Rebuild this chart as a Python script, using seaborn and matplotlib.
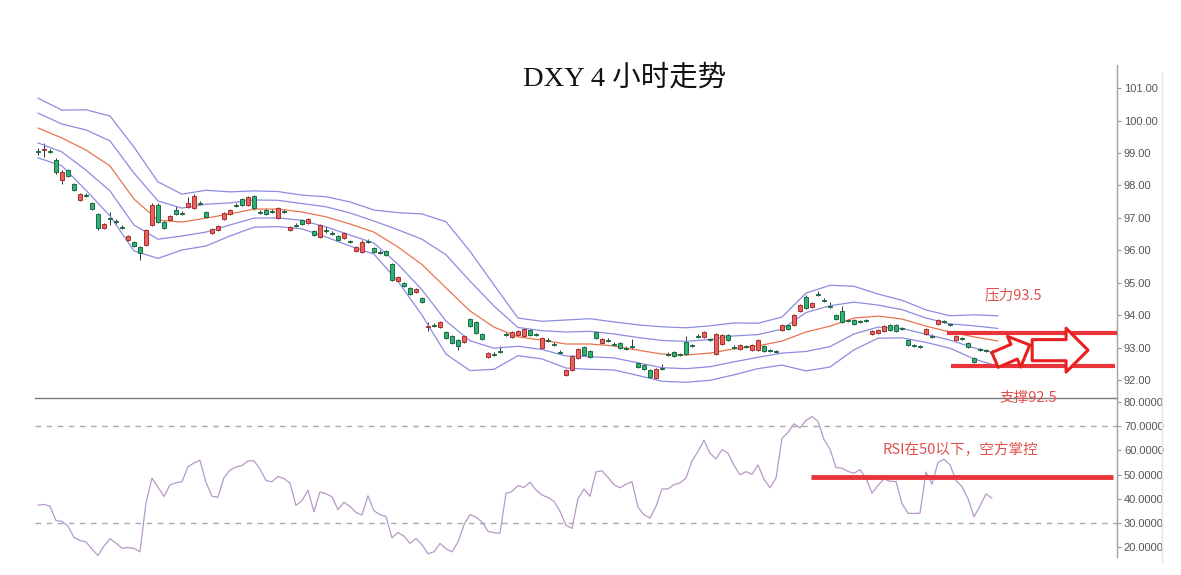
# DXY 4h chart: candles + bollinger bands on top, RSI below
import numpy as np
import pandas as pd
import matplotlib
matplotlib.use("Agg")
import matplotlib.pyplot as plt
from matplotlib.ticker import FormatStrFormatter
from matplotlib.lines import Line2D
import seaborn as sns

# candle values
opens = [
    99.06, 99.09, 99.06, 98.78, 98.17, 98.47, 98.04, 97.55, 97.70, 97.46,
    97.12, 96.69, 96.99, 96.90, 96.72, 96.32, 96.25, 96.10, 96.16, 96.78,
    97.39, 96.87, 96.93, 97.24, 97.15, 97.33, 97.30, 97.46, 97.18, 96.53,
    96.62, 96.96, 97.12, 97.39, 97.58, 97.39, 97.67, 97.18, 97.24, 97.21,
    96.99, 97.21, 96.62, 96.78, 96.93, 96.84, 96.59, 96.41, 96.62, 96.53,
    96.44, 96.38, 96.28, 95.98, 95.95, 96.28, 96.07, 95.95, 95.98, 95.58,
    95.05, 94.99, 94.84, 94.71, 94.53, 93.63, 93.70, 93.63, 93.48, 93.36,
    93.23, 93.17, 93.88, 93.79, 93.42, 92.71, 92.80, 92.89, 93.42, 93.33,
    93.39, 93.36, 93.54, 93.42, 92.99, 93.23, 93.11, 92.86, 92.15, 92.31,
    92.68, 93.02, 92.89, 93.48, 93.14, 93.23, 93.11, 93.14, 92.99, 93.05,
    92.52, 92.46, 92.31, 92.06, 92.37, 92.80, 92.86, 92.80, 93.17, 93.08,
    93.36, 93.33, 93.26, 92.80, 93.11, 93.39, 93.02, 92.96, 93.05, 92.92,
    92.92, 93.05, 92.92, 92.89, 93.54, 93.70, 93.70, 94.13, 94.56, 94.25,
    94.65, 94.47, 94.28, 94.00, 94.13, 93.85, 93.85, 93.82, 93.85, 93.42,
    93.45, 93.51, 93.70, 93.70, 93.60, 93.23, 93.08, 93.05, 93.42, 93.36,
    93.73, 93.82, 93.73, 93.23, 93.29, 93.14, 92.68, 92.96, 92.92, 92.86,
]
closes = [
    99.03, 99.12, 99.03, 98.41, 98.41, 98.29, 97.86, 97.73, 97.67, 97.27,
    96.69, 96.81, 96.96, 96.87, 96.69, 96.44, 96.13, 95.91, 96.62, 97.39,
    96.87, 96.69, 97.06, 97.12, 97.12, 97.46, 97.67, 97.43, 97.03, 96.66,
    96.75, 97.15, 97.24, 97.36, 97.39, 97.64, 97.30, 97.15, 97.12, 97.18,
    97.30, 97.18, 96.72, 96.75, 96.81, 96.96, 96.47, 96.78, 96.59, 96.50,
    96.32, 96.53, 96.25, 96.10, 96.25, 96.25, 95.95, 95.92, 95.85, 95.08,
    95.18, 94.90, 94.65, 94.81, 94.40, 93.66, 93.66, 93.79, 93.29, 93.14,
    93.05, 93.36, 93.66, 93.45, 93.26, 92.83, 92.77, 92.86, 93.39, 93.48,
    93.51, 93.57, 93.39, 93.39, 93.29, 93.20, 93.08, 92.83, 92.31, 92.74,
    92.96, 92.77, 92.71, 93.29, 93.26, 93.20, 93.08, 92.99, 92.96, 93.02,
    92.40, 92.34, 92.09, 92.34, 92.34, 92.77, 92.74, 92.77, 92.80, 93.05,
    93.33, 93.48, 93.23, 93.42, 93.39, 93.23, 92.99, 93.08, 93.02, 93.08,
    93.23, 92.89, 92.89, 92.86, 93.70, 93.57, 94.00, 94.31, 94.22, 94.37,
    94.62, 94.44, 94.25, 93.88, 93.79, 93.82, 93.73, 93.79, 93.82, 93.51,
    93.54, 93.66, 93.54, 93.51, 93.57, 93.08, 93.05, 93.02, 93.57, 93.33,
    93.85, 93.79, 93.70, 93.36, 93.26, 93.02, 92.55, 92.92, 92.89, 92.83,
]
highs = [
    99.15, 99.31, 99.12, 98.84, 98.47, 98.50, 98.07, 97.77, 97.77, 97.49,
    97.15, 96.84, 97.18, 96.96, 96.78, 96.47, 96.28, 96.13, 96.65, 97.46,
    97.46, 96.93, 97.09, 97.36, 97.21, 97.64, 97.73, 97.52, 97.21, 96.69,
    96.78, 97.18, 97.27, 97.46, 97.61, 97.67, 97.70, 97.24, 97.30, 97.27,
    97.33, 97.27, 96.75, 96.84, 96.96, 96.99, 96.62, 96.81, 96.75, 96.59,
    96.47, 96.56, 96.32, 96.13, 96.32, 96.35, 96.10, 96.01, 96.01, 95.61,
    95.21, 95.02, 94.87, 94.84, 94.56, 93.79, 93.76, 93.82, 93.51, 93.39,
    93.26, 93.39, 93.91, 93.82, 93.45, 92.86, 92.86, 93.05, 93.48, 93.51,
    93.54, 93.60, 93.57, 93.45, 93.33, 93.29, 93.17, 92.92, 92.34, 92.77,
    92.99, 93.05, 92.92, 93.51, 93.29, 93.29, 93.17, 93.17, 93.05, 93.26,
    92.55, 92.49, 92.34, 92.37, 92.49, 92.86, 92.89, 92.83, 93.36, 93.11,
    93.42, 93.51, 93.29, 93.45, 93.42, 93.42, 93.08, 93.11, 93.08, 93.11,
    93.26, 93.08, 92.96, 92.92, 93.73, 93.73, 94.03, 94.34, 94.62, 94.40,
    94.74, 94.53, 94.40, 94.03, 94.28, 93.88, 93.88, 93.85, 93.88, 93.54,
    93.57, 93.70, 93.73, 93.73, 93.63, 93.26, 93.11, 93.08, 93.60, 93.42,
    93.88, 93.85, 93.76, 93.39, 93.33, 93.17, 92.71, 92.99, 92.96, 92.92,
]
lows = [
    98.94, 98.88, 99.00, 98.35, 98.04, 98.26, 97.83, 97.52, 97.64, 97.24,
    96.62, 96.66, 96.78, 96.81, 96.66, 96.28, 96.10, 95.70, 96.13, 96.75,
    96.84, 96.66, 96.90, 97.09, 97.09, 97.30, 97.27, 97.39, 96.99, 96.50,
    96.59, 96.93, 97.09, 97.33, 97.36, 97.36, 97.24, 97.12, 97.09, 97.15,
    96.96, 97.15, 96.59, 96.72, 96.78, 96.81, 96.44, 96.38, 96.53, 96.47,
    96.28, 96.35, 96.22, 95.95, 95.92, 96.22, 95.92, 95.88, 95.82, 95.05,
    95.02, 94.87, 94.62, 94.68, 94.37, 93.51, 93.63, 93.60, 93.26, 93.11,
    92.92, 93.14, 93.63, 93.42, 93.23, 92.68, 92.74, 92.83, 93.36, 93.29,
    93.36, 93.33, 93.36, 93.36, 92.96, 93.17, 93.05, 92.80, 92.12, 92.28,
    92.65, 92.74, 92.68, 93.26, 93.11, 93.17, 93.05, 92.96, 92.92, 92.96,
    92.37, 92.31, 92.06, 92.03, 92.31, 92.74, 92.71, 92.74, 92.77, 93.02,
    93.29, 93.29, 93.20, 92.77, 93.08, 93.20, 92.96, 92.92, 92.99, 92.89,
    92.89, 92.86, 92.86, 92.83, 93.51, 93.54, 93.66, 94.10, 94.19, 94.22,
    94.59, 94.40, 94.22, 93.85, 93.76, 93.79, 93.70, 93.76, 93.79, 93.39,
    93.42, 93.48, 93.51, 93.48, 93.54, 93.05, 93.02, 92.99, 93.39, 93.29,
    93.70, 93.76, 93.66, 93.20, 93.23, 92.99, 92.52, 92.89, 92.86, 92.80,
]

# RSI, one value per candle
rsi = [
    37.3, 37.6, 36.9, 31.0, 30.6, 28.6, 24.0, 22.7, 22.1, 19.2,
    16.5, 20.4, 23.4, 21.6, 19.5, 19.8, 19.4, 18.0, 38.2, 48.5,
    44.8, 40.9, 45.7, 46.6, 47.0, 53.2, 54.8, 55.9, 46.8, 41.0,
    40.6, 48.7, 51.8, 53.1, 53.7, 55.6, 55.7, 52.3, 47.5, 47.0,
    49.2, 48.3, 46.5, 37.2, 39.2, 43.5, 34.6, 42.8, 42.0, 40.8,
    35.5, 38.5, 36.8, 34.3, 33.2, 41.2, 35.0, 33.4, 32.6, 23.8,
    26.0, 24.5, 21.5, 23.5, 21.0, 17.2, 18.0, 21.5, 19.3, 18.0,
    22.0, 29.2, 33.4, 32.3, 30.4, 26.5, 25.9, 25.7, 42.1, 43.0,
    45.4, 44.6, 46.8, 43.6, 41.5, 40.5, 38.9, 34.8, 29.0, 27.7,
    40.0, 44.0, 41.0, 51.1, 51.5, 48.8, 45.8, 44.5, 46.0, 47.0,
    36.5, 33.3, 32.0, 36.8, 44.0, 44.0, 45.8, 46.5, 48.5, 55.6,
    59.5, 64.2, 58.8, 56.5, 60.3, 58.8, 53.8, 49.9, 51.2, 50.1,
    54.0, 48.0, 44.5, 48.5, 65.0, 67.4, 71.0, 69.3, 72.4, 74.0,
    72.0, 64.5, 60.5, 52.9, 52.6, 51.3, 50.5, 52.0, 48.5, 42.3,
    45.5, 48.2, 47.2, 47.1, 38.0, 33.9, 33.9, 34.0, 51.0, 46.0,
    55.0, 56.3, 54.0, 47.5, 45.0, 40.0, 32.5, 37.0, 42.0, 40.2,
]

# bollinger bands, every 4th candle
band_idx = list(range(0, 161, 4))
band_upper2 = [
    100.69, 100.32, 100.33, 100.14, 99.18, 98.11, 97.73, 97.85, 97.80, 97.83,
    97.81, 97.70, 97.65, 97.49, 97.24, 97.16, 97.12, 96.88, 95.97, 94.93,
    93.91, 93.81, 93.85, 93.89, 93.79, 93.70, 93.64, 93.61, 93.67, 93.76,
    93.75, 93.94, 94.68, 94.92, 94.89, 94.65, 94.46, 94.16, 93.98, 94.01, 93.98,
]
band_upper1 = [
    100.23, 99.89, 99.71, 99.37, 98.38, 97.52, 97.30, 97.42, 97.46, 97.55,
    97.54, 97.44, 97.34, 97.15, 96.90, 96.63, 96.34, 95.86, 95.05, 94.28,
    93.62, 93.52, 93.48, 93.50, 93.42, 93.31, 93.22, 93.19, 93.25, 93.36,
    93.40, 93.57, 94.08, 94.29, 94.40, 94.31, 94.17, 93.91, 93.73, 93.67, 93.59,
]
band_mid = [
    99.77, 99.46, 99.09, 98.60, 97.58, 96.93, 96.87, 96.99, 97.12, 97.27,
    97.27, 97.18, 97.03, 96.81, 96.56, 96.10, 95.56, 94.84, 94.13, 93.63,
    93.33, 93.23, 93.11, 93.11, 93.05, 92.92, 92.80, 92.77, 92.83, 92.96,
    93.05, 93.20, 93.48, 93.66, 93.91, 93.97, 93.88, 93.66, 93.48, 93.33, 93.20,
]
band_lower1 = [
    99.31, 99.03, 98.47, 97.83, 96.78, 96.34, 96.44, 96.56, 96.78, 96.99,
    97.00, 96.92, 96.72, 96.47, 96.22, 95.57, 94.78, 93.82, 93.21, 92.98,
    93.04, 92.94, 92.74, 92.72, 92.68, 92.53, 92.38, 92.35, 92.41, 92.56,
    92.70, 92.83, 92.88, 93.03, 93.42, 93.63, 93.59, 93.41, 93.23, 92.99, 92.81,
]
band_lower2 = [
    98.85, 98.60, 97.85, 97.06, 95.98, 95.75, 96.01, 96.13, 96.44, 96.71,
    96.73, 96.66, 96.41, 96.13, 95.88, 95.04, 94.00, 92.80, 92.29, 92.33,
    92.75, 92.65, 92.37, 92.33, 92.31, 92.14, 91.96, 91.93, 91.99, 92.16,
    92.35, 92.46, 92.28, 92.40, 92.93, 93.29, 93.30, 93.16, 92.98, 92.65, 92.42,
]

price_ticks = [92, 93, 94, 95, 96, 97, 98, 99, 100, 101]
rsi_ticks = [20, 30, 40, 50, 60, 70, 80]
resistance = 93.45   # 压力93.5
support = 92.42      # 支撑92.5
rsi_mark = 49.0

candles = pd.DataFrame({"open": opens, "high": highs, "low": lows,
                        "close": closes, "rsi": rsi})
candles["idx"] = np.arange(len(candles))
bands = pd.DataFrame({"idx": band_idx, "upper2": band_upper2, "upper1": band_upper1,
                      "mid": band_mid, "lower1": band_lower1, "lower2": band_lower2})

sns.set_theme(style="white")
plt.rcParams["font.family"] = ["Liberation Sans", "Noto Sans CJK SC", "DejaVu Sans"]

fig = plt.figure(figsize=(11.81, 5.75), dpi=100)
ax = fig.add_axes([0.0296, 0.3078, 0.9162, 0.5791])
ax2 = fig.add_axes([0.0296, 0.0313, 0.9162, 0.2765])
# transparent panels so the separator line and the 支撑 note are not hidden
ax.patch.set_visible(False)
ax2.patch.set_visible(False)

# candles (red = up, green = down)
up = candles["close"] >= candles["open"]
body_bot = np.minimum(candles["open"], candles["close"])
body_h = np.maximum((candles["close"] - candles["open"]).abs(), 0.014)
ax.vlines(candles["idx"], candles["low"], candles["high"], color="#333333",
          linewidth=0.7, zorder=2)
ax.bar(candles["idx"][up], body_h[up], bottom=body_bot[up], width=0.72,
       color="#e8625c", edgecolor="#a83030", linewidth=0.7, zorder=3)
ax.bar(candles["idx"][~up], body_h[~up], bottom=body_bot[~up], width=0.72,
       color="#2fb274", edgecolor="#1d6a45", linewidth=0.7, zorder=3)

band_col = "#8c8ce0"
for col in ["upper2", "upper1", "lower1", "lower2"]:
    sns.lineplot(data=bands, x="idx", y=col, ax=ax, color=band_col,
                 linewidth=0.9, estimator=None)
sns.lineplot(data=bands, x="idx", y="mid", ax=ax, color="#e8744e",
             linewidth=0.9, estimator=None)

# RSI
sns.lineplot(data=candles, x="idx", y="rsi", ax=ax2, color="#b898c8",
             linewidth=0.9, estimator=None)
ax2.axhline(70, color="#aaaaaa", linewidth=1, linestyle=(0, (4, 4)))
ax2.axhline(30, color="#aaaaaa", linewidth=1, linestyle=(0, (4, 4)))

# axes styling
for a in (ax, ax2):
    a.set_xlim(-0.5, 179.83)
    a.set_xticks([])
    a.set_xlabel("")
    a.set_ylabel("")
    a.yaxis.tick_right()
    for s in ["left", "top"]:
        a.spines[s].set_visible(False)
    a.spines["right"].set_color("#a0a0a0")
    a.spines["right"].set_linewidth(1)
    a.tick_params(axis="y", direction="out", length=3, width=0.8, color="#999999",
                  labelsize=8, labelcolor="#555555", pad=2)
ax.spines["bottom"].set_color("#7a7a7a")
ax.spines["bottom"].set_linewidth(1)
ax2.spines["bottom"].set_visible(False)

ax.set_ylim(91.445, 101.71)
ax.set_yticks(price_ticks)
ax.yaxis.set_major_formatter(FormatStrFormatter("%.2f"))
ax2.set_ylim(15.86, 81.66)
ax2.set_yticks(rsi_ticks)
ax2.yaxis.set_major_formatter(FormatStrFormatter("%.4f"))

# red marks and notes
red = "#e8343a"
txt_red = "#e05050"
cjk = ["Noto Sans CJK SC", "DejaVu Sans"]
ax.plot([151.5, 179.8], [resistance, resistance], color=red, linewidth=3,
        solid_capstyle="butt", zorder=5)
ax.plot([152.2, 179.5], [support, support], color=red, linewidth=3,
        solid_capstyle="butt", zorder=5)
ax2.plot([128.8, 179.2], [rsi_mark, rsi_mark], color=red, linewidth=3.5,
         solid_capstyle="butt", zorder=5)

ax.annotate("", xy=(165.3, 93.08), xytext=(159.5, 92.62),
            arrowprops=dict(arrowstyle="simple,head_length=0.82,head_width=1.6,tail_width=0.77",
                            fc="white", ec="#e82020", lw=2.2, mutation_scale=15,
                            shrinkA=0, shrinkB=0), zorder=6)
ax.annotate("", xy=(175.0, 92.92), xytext=(165.7, 92.92),
            arrowprops=dict(arrowstyle="simple,head_length=0.79,head_width=1.58,tail_width=0.76",
                            fc="white", ec="#e82020", lw=2.2, mutation_scale=20,
                            shrinkA=0, shrinkB=0), zorder=6)

ax.text(157.8, 94.62, "压力93.5", color=txt_red, fontsize=10.5, family=cjk,
        ha="left", va="center")
ax.text(160.3, 91.445, "支撑92.5", color=txt_red, fontsize=10.5, family=cjk,
        ha="left", va="center", clip_on=False, zorder=7)
ax2.text(140.8, 60.1, "RSI在50以下，空方掌控", color=txt_red, fontsize=10.5,
         family=cjk, ha="left", va="center")

fig.text(0.529, 0.864, "DXY 4 小时走势", ha="center", va="center", fontsize=20.5,
         family=["Liberation Serif", "Noto Sans CJK SC"], color="#111111")

# faint frame line on the right
fig.add_artist(Line2D([1162 / 1181, 1162 / 1181], [1 - 72 / 575, 1 - 562 / 575],
                      color="#e4e4e4", linewidth=1))

fig.savefig("out.png", dpi=100)
